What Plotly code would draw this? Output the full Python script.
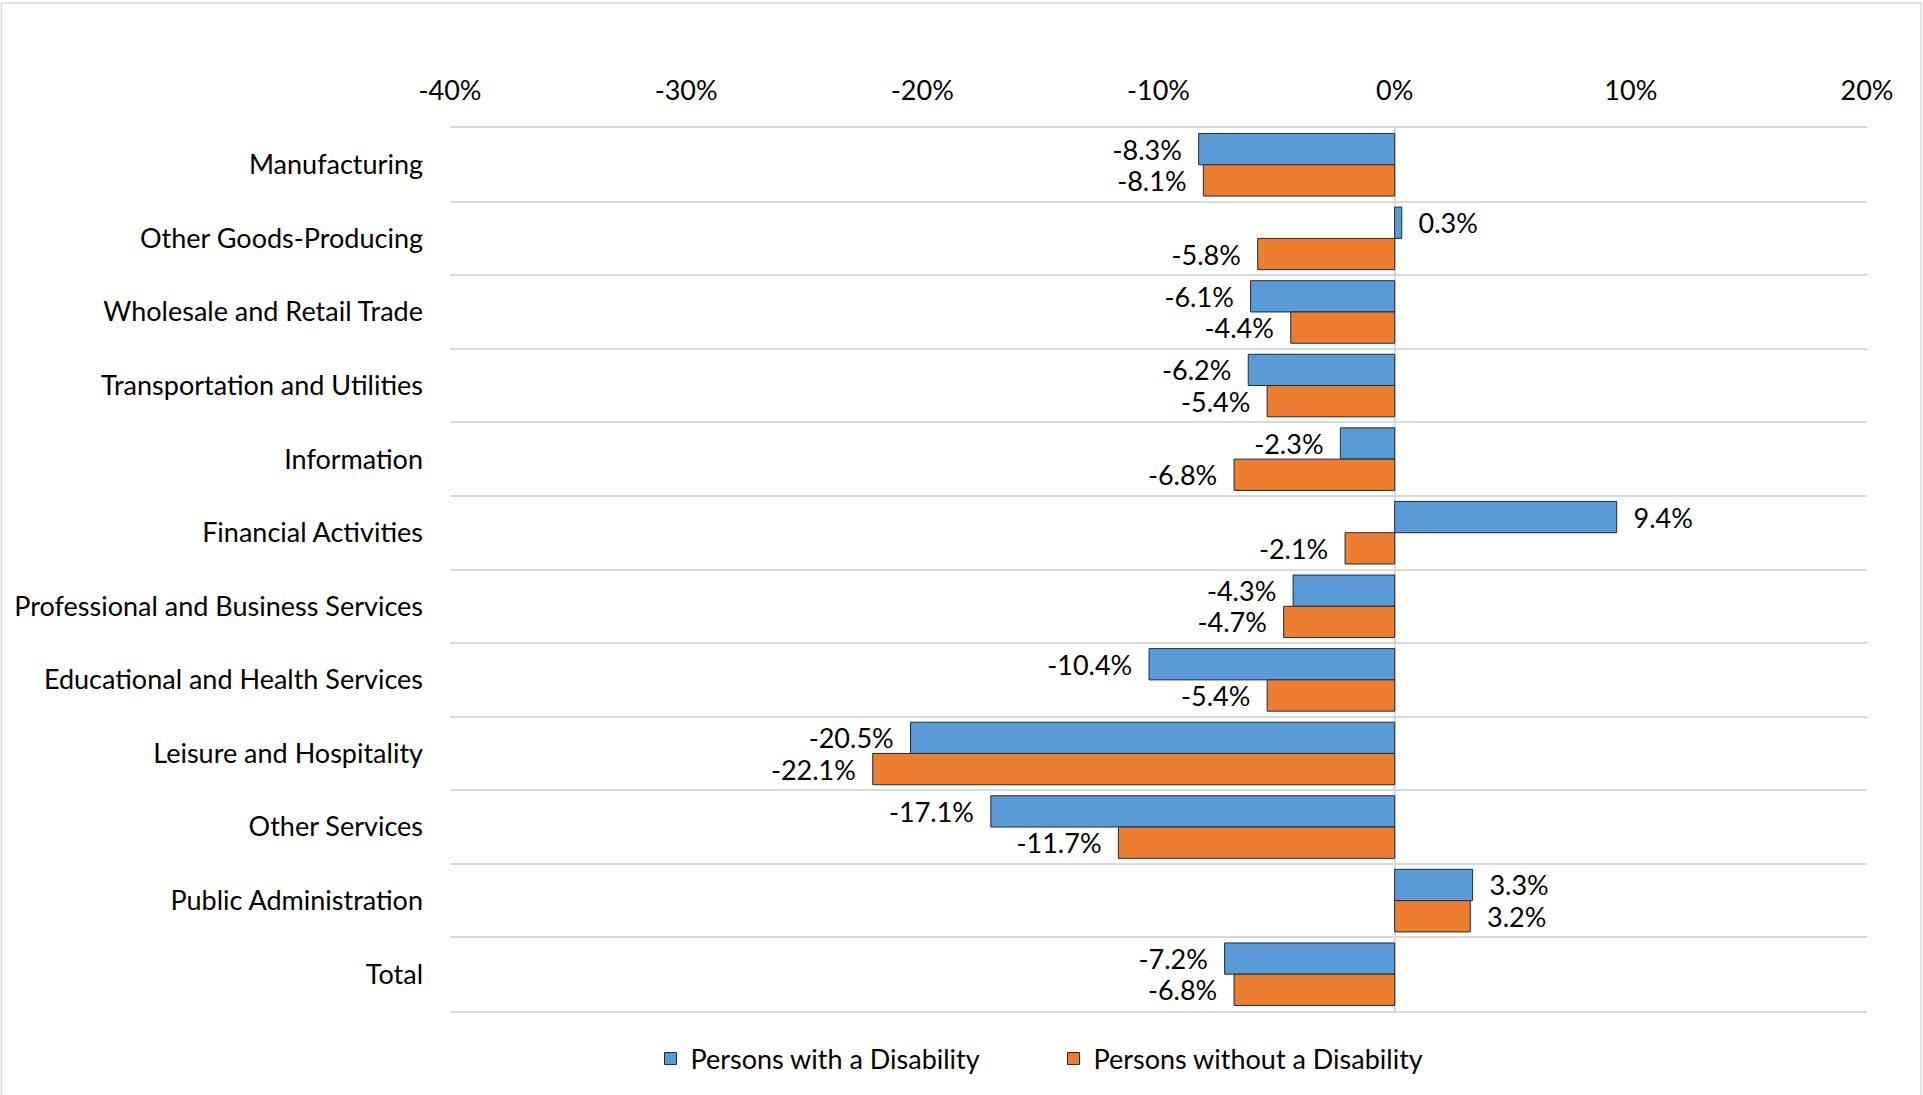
import plotly.graph_objects as go

# Employment change by industry, persons with / without a disability
industries = [
    "Manufacturing",
    "Other Goods-Producing",
    "Wholesale and Retail Trade",
    "Transportation and Utilities",
    "Information",
    "Financial Activities",
    "Professional and Business Services",
    "Educational and Health Services",
    "Leisure and Hospitality",
    "Other Services",
    "Public Administration",
    "Total",
]
with_disability = [-8.3, 0.3, -6.1, -6.2, -2.3, 9.4, -4.3, -10.4, -20.5, -17.1, 3.3, -7.2]
without_disability = [-8.1, -5.8, -4.4, -5.4, -6.8, -2.1, -4.7, -5.4, -22.1, -11.7, 3.2, -6.8]
series_names = ["Persons with a Disability", "Persons without a Disability"]
x_ticks = [-40, -30, -20, -10, 0, 10, 20]

FONT = "Lato, 'Open Sans', sans-serif"
FS = 27
BLUE = "#5B9BD5"
ORANGE = "#ED7D31"
GRID = "#D9D9D9"
PAD = "\u00a0\u00a0"

W, H = 1923, 1095
ML, MR, MT, MB = 450, 56, 128, 84
PW, PH = W - ML - MR, H - MT - MB


def label(v):
    # keep a little air between the bar end and its value
    return f"{v:.1f}%{PAD}" if v < 0 else f"{PAD}{v:.1f}%"


fig = go.Figure()
for name, vals, color in [
    (series_names[0], with_disability, BLUE),
    (series_names[1], without_disability, ORANGE),
]:
    fig.add_trace(go.Bar(
        name=name,
        y=industries,
        x=vals,
        orientation="h",
        marker=dict(color=color, line=dict(color="#1F2A36", width=1)),
        text=[label(v) for v in vals],
        textposition="outside",
        constraintext="none",
        cliponaxis=False,
        textfont=dict(family=FONT, size=FS, color="#000000"),
        hoverinfo="skip",
    ))

fig.update_layout(
    width=W,
    height=H,
    barmode="group",
    bargap=0.15,
    bargroupgap=0,
    plot_bgcolor="white",
    paper_bgcolor="white",
    margin=dict(l=ML, r=MR, t=MT, b=MB, autoexpand=False),
    font=dict(family=FONT, size=FS, color="#000000"),
    xaxis=dict(
        side="top",
        range=[-40, 20],
        tickvals=x_ticks,
        ticktext=[f"{t}%" for t in x_ticks],
        showgrid=False,
        zeroline=True,
        zerolinecolor=GRID,
        zerolinewidth=2,
        showline=True,
        mirror=True,
        linecolor=GRID,
        linewidth=2,
        ticks="",
        ticklabelstandoff=15,
        tickfont=dict(family=FONT, size=FS),
        fixedrange=True,
    ),
    yaxis=dict(
        type="category",
        autorange="reversed",
        tickson="boundaries",
        showgrid=True,
        gridcolor=GRID,
        gridwidth=2,
        showline=False,
        ticks="",
        ticklabelstandoff=26,
        tickfont=dict(family=FONT, size=FS),
        fixedrange=True,
    ),
    legend=dict(
        orientation="h",
        x=0.1415,
        xanchor="left",
        y=-48 / PH,
        yanchor="middle",
        entrywidth=358,
        entrywidthmode="pixels",
        itemwidth=30,
        font=dict(family=FONT, size=FS),
        traceorder="normal",
    ),
    showlegend=True,
    shapes=[
        # thin frame around the chart area
        dict(
            type="rect",
            xref="paper", yref="paper",
            x0=(1.5 - ML) / PW, x1=(1921 - ML) / PW,
            y0=-(MB + 4) / PH, y1=1 + (MT - 3) / PH,
            line=dict(color=GRID, width=1.5),
            fillcolor="rgba(0,0,0,0)",
            layer="below",
        )
    ],
)

fig.write_html("out.html")
